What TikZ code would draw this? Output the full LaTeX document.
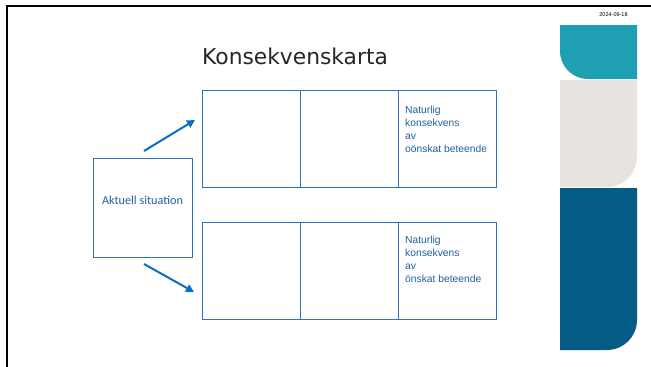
\documentclass[tikz,border=0pt]{standalone}
\usepackage{fontspec}
\setmainfont{Carlito}
\newfontfamily\titlefont{DejaVu Sans}
\newfontfamily\arialfont{Liberation Sans}
\usepackage{tikz}
\usetikzlibrary{arrows.meta,positioning}
\definecolor{tealblock}{HTML}{1E9FB2}
\definecolor{greyblock}{HTML}{E7E3E0}
\definecolor{darkblock}{HTML}{045B86}
\definecolor{cellblue}{HTML}{2E75B6}
\definecolor{arrowblue}{HTML}{0A6FC0}
\definecolor{textblue}{HTML}{1F5FA0}

\tikzset{
cell/.style={draw=cellblue, line width=0.8pt, minimum width=98pt, minimum height=97pt, inner sep=0pt, outer sep=0pt},
naturtext/.style={anchor=north west, align=left, text=textblue, font=\arialfont\fontsize{10.3}{13}\selectfont, inner sep=0pt},
pilen/.style={-{Triangle[length=8pt,width=8pt]}, draw=arrowblue, line width=2pt}
}

\begin{document}
\begin{tikzpicture}[x=1pt,y=-1pt]
\useasboundingbox (0,0) rectangle (651,367);
%%%%% Frame %%%%%
\draw[line width=2.2pt] (7,367)--(7,6)--(651,6);
%%%%% Blocks %%%%%
\fill[tealblock] (560,25) -- (637,25) -- (637,79) -- (588,79) .. controls (572.5,79) and (560,66.5) .. (560,51) -- cycle;
\fill[greyblock] (560,80) -- (637,80) -- (637,157) .. controls (637,173.6) and (623.6,187) .. (607,187) -- (560,187) -- cycle;
\fill[darkblock] (560,188) -- (637,188) -- (637,320) .. controls (637,336.6) and (623.6,350) .. (607,350) -- (560,350) -- cycle;
\node[font=\arialfont\fontsize{5.5}{6}\selectfont] (datum) at (613.5,15) {2024-09-18};
%%%%% Title %%%%%
\node[anchor=west, font=\titlefont\fontsize{21.8}{26}\selectfont, text=black!85, inner sep=0pt] (rubrik) at (202,56) {Konsekvenskarta};
%%%%% Situation %%%%%
\node[draw=cellblue, line width=0.8pt, minimum width=99pt, minimum height=99pt, inner sep=0pt] (aktuell) at (142.5,207.5) {};
\node[text=textblue, font=\fontsize{12.2}{14}\selectfont, inner sep=0pt] (aktuelltext) at (142.5,200) {Aktuell situation};
%%%%% Cells %%%%%
\node[cell] (t1) at (251,138.5) {};
\node[cell, right=0pt of t1] (t2) {};
\node[cell, right=0pt of t2] (t3) {};
\node[cell] (b1) at (251,270.5) {};
\node[cell, right=0pt of b1] (b2) {};
\node[cell, right=0pt of b2] (b3) {};
\node[naturtext] (tlab) at (405,106) {Naturlig\\konsekvens\\av\\oönskat beteende};
\node[naturtext] (blab) at (405,236) {Naturlig\\konsekvens\\av\\önskat beteende};
%%%%% Arrows %%%%%
\coordinate (ustart) at (144,151);
\coordinate (uslut) at (195,120);
\coordinate (nstart) at (144,264);
\coordinate (nslut) at (194,292);
\draw[pilen] (ustart) -- (uslut);
\draw[pilen] (nstart) -- (nslut);
\end{tikzpicture}
\end{document}
